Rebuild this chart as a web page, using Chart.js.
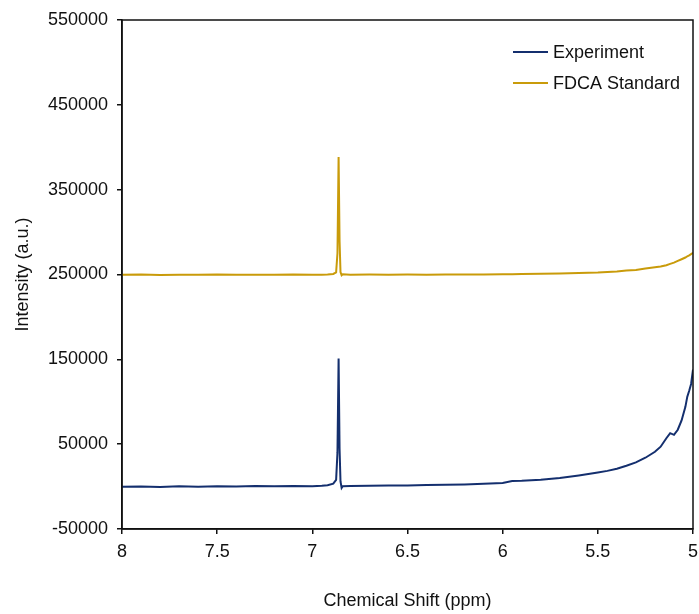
<!DOCTYPE html>
<html>
<head>
<meta charset="utf-8">
<script src="https://cdn.jsdelivr.net/npm/chart.js@4.4.1/dist/chart.umd.min.js"></script>
<style>
  html, body { margin: 0; padding: 0; background: #fff; }
  #wrap { width: 699px; height: 614px; }
</style>
</head>
<body>
<div id="wrap"><canvas id="nmrChart" width="699" height="614"></canvas></div>
<script>
// chemical shift (ppm), shared by both spectra
const shift = [8.0, 7.9, 7.8, 7.7, 7.6, 7.5, 7.4, 7.3, 7.2, 7.1, 7.0, 6.95, 6.92, 6.89, 6.875, 6.868,
  6.862, 6.857, 6.852, 6.846, 6.84, 6.8, 6.7, 6.6, 6.5, 6.4, 6.3, 6.2, 6.1, 6.0, 5.95, 5.9, 5.8,
  5.7, 5.6, 5.5, 5.45, 5.4, 5.35, 5.3, 5.25, 5.2, 5.17, 5.14, 5.12, 5.1, 5.08, 5.06, 5.04, 5.03,
  5.02, 5.01, 5.0];

const experiment = [-300, 200, -400, 300, -100, 400, 100, 600, 300, 800, 500, 900, 1600, 3500, 8000, 40000,
  151000, 45000, 6000, -1500, 400, 700, 900, 1300, 1400, 1800, 2100, 2600, 3300, 4300, 6500, 6800, 8000,
  10000, 13000, 16500, 18500, 21000, 24500, 28500, 34000, 41000, 47000, 57000, 63000, 61000, 67000, 78000, 94000, 106000,
  113000, 121000, 138000];

const fdcaStandard = [249600, 249900, 249500, 249800, 249600, 249900, 249700, 249800, 249600, 249900, 249700, 249800, 250000, 250600, 252500, 275000,
  388500, 290000, 253000, 249000, 250200, 249800, 249900, 249700, 249900, 249800, 250000, 250100, 250000, 250300, 250400, 250600, 250900,
  251300, 251800, 252300, 252900, 253600, 254700, 255300, 257000, 258500, 259500, 261000, 262500, 264000, 266000, 268000, 270000, 271500,
  272500, 274000, 275500];

const seriesNames = ['Experiment', 'FDCA Standard'];
const seriesColors = ['#142f6e', '#c99b0a'];

const xTicks = [8, 7.5, 7, 6.5, 6, 5.5, 5];
const yTicks = [-50000, 50000, 150000, 250000, 350000, 450000, 550000];

const toPoints = ys => shift.map((x, i) => ({ x, y: ys[i] }));

const FONT = { family: '"Liberation Sans", Arial, sans-serif', size: 18 };

// box round the plot area
const frame = {
  id: 'frame',
  afterDraw(chart) {
    const { ctx, chartArea: a } = chart;
    ctx.save();
    ctx.strokeStyle = '#111';
    ctx.lineWidth = 1.5;
    ctx.strokeRect(a.left, a.top, a.right - a.left, a.bottom - a.top);
    ctx.restore();
  }
};

// legend in the top right corner of the plot
const innerLegend = {
  id: 'innerLegend',
  afterDraw(chart) {
    const { ctx, chartArea: a } = chart;
    ctx.save();
    ctx.font = FONT.size + 'px ' + FONT.family;
    ctx.textBaseline = 'middle';
    ctx.textAlign = 'left';
    chart.data.datasets.forEach((ds, i) => {
      const y = a.top + 32 + i * 31;
      const x0 = a.right - 180;
      ctx.strokeStyle = ds.borderColor;
      ctx.lineWidth = 2;
      ctx.beginPath();
      ctx.moveTo(x0, y);
      ctx.lineTo(x0 + 35, y);
      ctx.stroke();
      ctx.fillStyle = '#111';
      ctx.fillText(ds.label, x0 + 40, y + 1);
    });
    ctx.restore();
  }
};

new Chart(document.getElementById('nmrChart').getContext('2d'), {
  type: 'scatter',
  data: {
    datasets: [
      { label: seriesNames[0], data: toPoints(experiment), borderColor: seriesColors[0], backgroundColor: seriesColors[0] },
      { label: seriesNames[1], data: toPoints(fdcaStandard), borderColor: seriesColors[1], backgroundColor: seriesColors[1] }
    ]
  },
  options: {
    responsive: false,
    animation: false,
    showLine: true,
    elements: {
      point: { radius: 0, hoverRadius: 0 },
      line: { borderWidth: 2, tension: 0 }
    },
    layout: { padding: { top: 20, right: 6, left: 0, bottom: 0 } },
    plugins: {
      legend: { display: false },
      tooltip: { enabled: false }
    },
    scales: {
      x: {
        type: 'linear',
        reverse: true,
        min: 5,
        max: 8,
        afterBuildTicks: s => { s.ticks = xTicks.map(v => ({ value: v })); },
        afterFit: s => { s.height = 85; s.paddingLeft = 0; s.paddingRight = 0; },
        grid: { drawOnChartArea: false, drawTicks: true, tickLength: 5, color: '#111', lineWidth: 1.5 },
        border: { display: true, color: '#111', width: 1.5 },
        ticks: { color: '#111', font: FONT, padding: 7, maxRotation: 0, callback: v => String(v) },
        title: { display: true, text: 'Chemical Shift (ppm)', color: '#111', font: FONT, padding: { top: 0, bottom: 2 } }
      },
      y: {
        min: -50000,
        max: 550000,
        afterBuildTicks: s => { s.ticks = yTicks.map(v => ({ value: v })); },
        afterFit: s => { s.width = 122; s.paddingTop = 0; s.paddingBottom = 0; },
        grid: { drawOnChartArea: false, drawTicks: true, tickLength: 5, color: '#111', lineWidth: 1.5 },
        border: { display: true, color: '#111', width: 1.5 },
        ticks: { color: '#111', font: FONT, padding: 9, callback: v => String(v) },
        title: { display: true, text: 'Intensity (a.u.)', color: '#111', font: FONT, padding: { top: 12, bottom: 0 } }
      }
    }
  },
  plugins: [frame, innerLegend]
});
</script>
</body>
</html>
